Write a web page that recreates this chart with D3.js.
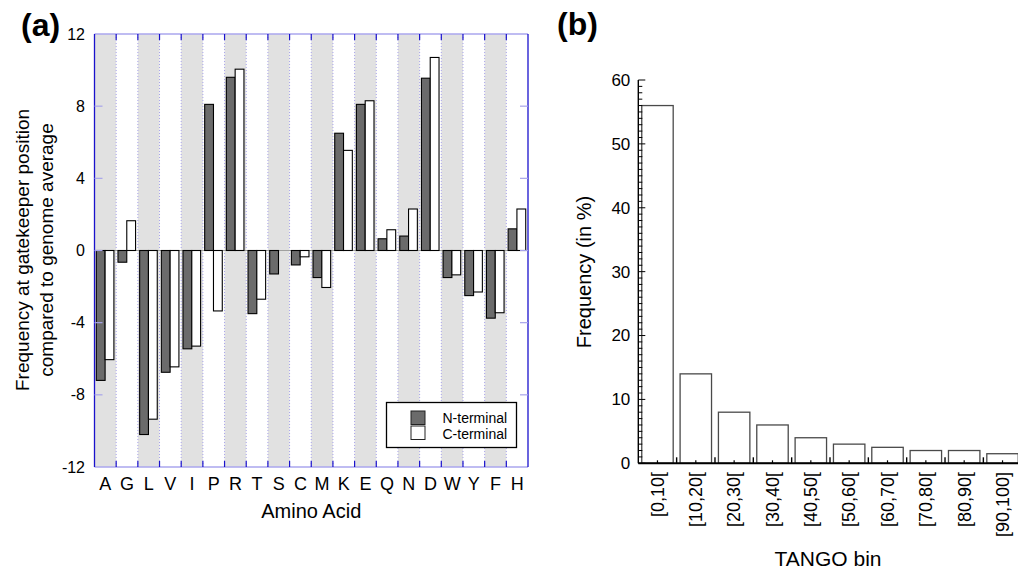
<!DOCTYPE html>
<html>
<head>
<meta charset="utf-8">
<script src="https://cdn.jsdelivr.net/npm/d3@7"></script>
<style>
    body { margin: 0; background: #fff; }
    text { font-family: "Liberation Sans", Arial, Helvetica, sans-serif; fill: #000; }
</style>
</head>
<body>
<svg id="chart"></svg>
<script>
const   width  = 1018,
        height = 570;

// panel (a) data
const aminoAcids = ["A","G","L","V","I","P","R","T","S","C","M","K","E","Q","N","D","W","Y","F","H"];
const nTerminal  = [-7.2, -0.65, -10.2, -6.75, -5.45, 8.1, 9.6, -3.5, -1.3, -0.8, -1.5, 6.5, 8.1, 0.65, 0.8, 9.55, -1.5, -2.5, -3.75, 1.2];
const cTerminal  = [-6.05, 1.65, -9.35, -6.45, -5.3, -3.35, 10.05, -2.7, 0, -0.35, -2.05, 5.55, 8.3, 1.15, 2.3, 10.7, -1.35, -2.3, -3.45, 2.3];
const yTicksA    = [-12, -8, -4, 0, 4, 8, 12];
const seriesA    = ["N-terminal", "C-terminal"];

// panel (b) data
const tangoBins  = ["[0,10[", "[10,20[", "[20,30[", "[30,40[", "[40,50[", "[50,60[", "[60,70[", "[70,80[", "[80,90[", "[90,100]"];
const tangoFreq  = [56, 14, 8, 6, 4, 3, 2.5, 2, 2, 1.5];
const yTicksB    = [0, 10, 20, 30, 40, 50, 60];

const svg = d3.select("#chart").attr("width", width).attr("height", height);

// ---------------- panel (a) ----------------
const A = {left: 94.5, right: 528, top: 34, bottom: 467};
const gA = svg.append("g");

const xA = d3.scaleBand().domain(aminoAcids).range([A.left, A.right]);
const xSub = d3.scaleBand().domain(seriesA).range([1.8, 19.4]);
const yA = d3.scaleLinear().domain([-12, 12]).range([A.bottom, A.top]);

// alternating grey bands
gA.selectAll("rect.band")
    .data(aminoAcids.filter((d, i) => i % 2 === 0))
    .enter().append("rect")
    .attr("class", "band")
    .attr("x", d => xA(d))
    .attr("y", A.top)
    .attr("width", xA.bandwidth())
    .attr("height", A.bottom - A.top)
    .style("fill", "#e1e1e1");

// dotted separators
const bounds = aminoAcids.slice(1).map(d => xA(d));
gA.selectAll("line.sep")
    .data(bounds)
    .enter().append("line")
    .attr("x1", d => d).attr("x2", d => d)
    .attr("y1", A.top).attr("y2", A.bottom)
    .style("stroke", "#a8a4ea")
    .style("stroke-width", 1)
    .style("stroke-dasharray", "1,2");

// zero line
gA.append("line")
    .attr("x1", A.left).attr("x2", A.right)
    .attr("y1", yA(0)).attr("y2", yA(0))
    .style("stroke", "#a0a0a0").style("stroke-width", 1.2);

// bars
const rowsA = aminoAcids.map((d, i) => ({aa: d, vals: [
    {key: "N-terminal", v: nTerminal[i]},
    {key: "C-terminal", v: cTerminal[i]}
]}));

gA.selectAll("g.aa")
    .data(rowsA)
    .enter().append("g")
    .attr("transform", d => "translate(" + xA(d.aa) + ",0)")
    .selectAll("rect")
    .data(d => d.vals)
    .enter().append("rect")
    .attr("x", d => xSub(d.key))
    .attr("y", d => yA(Math.max(0, d.v)))
    .attr("width", xSub.bandwidth())
    .attr("height", d => Math.abs(yA(d.v) - yA(0)))
    .style("fill", d => d.key === "N-terminal" ? "#6b6b6b" : "#ffffff")
    .style("stroke", "#000")
    .style("stroke-width", 1.1);

// frame: light top/bottom, blue left/right
gA.append("line").attr("x1", A.left).attr("x2", A.right).attr("y1", A.top).attr("y2", A.top)
    .style("stroke", "#aaa6ee").style("stroke-width", 1.5);
gA.append("line").attr("x1", A.left).attr("x2", A.right).attr("y1", A.bottom).attr("y2", A.bottom)
    .style("stroke", "#aaa6ee").style("stroke-width", 1.5);
gA.append("line").attr("x1", A.left).attr("x2", A.left).attr("y1", A.top).attr("y2", A.bottom)
    .style("stroke", "#1a12cc").style("stroke-width", 1.3);
gA.append("line").attr("x1", A.right).attr("x2", A.right).attr("y1", A.top).attr("y2", A.bottom)
    .style("stroke", "#1a12cc").style("stroke-width", 1.3);

// blue ticks on top and bottom at the boundaries
bounds.forEach(b => {
    gA.append("line").attr("x1", b).attr("x2", b).attr("y1", A.top).attr("y2", A.top + 6)
        .style("stroke", "#1a12cc").style("stroke-width", 1.2);
    gA.append("line").attr("x1", b).attr("x2", b).attr("y1", A.bottom - 6).attr("y2", A.bottom)
        .style("stroke", "#1a12cc").style("stroke-width", 1.2);
});

// y ticks (lavender, inside on both sides)
gA.selectAll("line.yt")
    .data(yTicksA.slice(1, -1))
    .enter().append("line")
    .attr("x1", A.left).attr("x2", A.left + 8)
    .attr("y1", d => yA(d)).attr("y2", d => yA(d))
    .style("stroke", "#a8a4ea").style("stroke-width", 1.2);
gA.selectAll("line.yt2")
    .data(yTicksA.slice(1, -1))
    .enter().append("line")
    .attr("x1", A.right - 8).attr("x2", A.right)
    .attr("y1", d => yA(d)).attr("y2", d => yA(d))
    .style("stroke", "#a8a4ea").style("stroke-width", 1.2);

gA.selectAll("text.ytl")
    .data(yTicksA)
    .enter().append("text")
    .attr("x", 85)
    .attr("y", d => yA(d))
    .attr("dy", "0.35em")
    .attr("text-anchor", "end")
    .style("font-size", "16px")
    .text(d => d);

gA.selectAll("text.xtl")
    .data(aminoAcids)
    .enter().append("text")
    .attr("x", d => xA(d) + xA.bandwidth() / 2)
    .attr("y", 490)
    .attr("text-anchor", "middle")
    .style("font-size", "18px")
    .text(d => d);

gA.append("text")
    .attr("x", (A.left + A.right) / 2)
    .attr("y", 518)
    .attr("text-anchor", "middle")
    .style("font-size", "20px")
    .text("Amino Acid");

const yLab = gA.append("text")
    .attr("transform", "translate(29,250) rotate(-90)")
    .attr("text-anchor", "middle")
    .style("font-size", "19px");
yLab.append("tspan").attr("x", 0).attr("y", 0).text("Frequency at gatekeeper position");
yLab.append("tspan").attr("x", 0).attr("y", 24).text("compared to genome average");

// legend
const leg = gA.append("g");
leg.append("rect")
    .attr("x", 386.5).attr("y", 402.5).attr("width", 130).attr("height", 45)
    .style("fill", "#fff").style("stroke", "#000").style("stroke-width", 1.3);
seriesA.forEach((s, i) => {
    leg.append("rect")
        .attr("x", 411).attr("y", 411 + i * 15).attr("width", 14).attr("height", 13.5)
        .style("fill", s === "N-terminal" ? "#6b6b6b" : "#fff")
        .style("stroke", "#222").style("stroke-width", 1);
    leg.append("text")
        .attr("x", 442.5).attr("y", 423 + i * 15.5)
        .style("font-size", "14px")
        .text(s);
});

svg.append("text")
    .attr("x", 21).attr("y", 36)
    .style("font-size", "32px").style("font-weight", "bold")
    .text("(a)");

// ---------------- panel (b) ----------------
const B = {left: 638.3, right: 1021.7, top: 80, bottom: 463.3};
const gB = svg.append("g");

const xB = d3.scaleBand().domain(tangoBins).range([B.left, B.right]).paddingInner(0.18).paddingOuter(0.09);
const xBin = d3.scaleBand().domain(tangoBins).range([B.left, B.right]);
const yB = d3.scaleLinear().domain([0, 60]).range([B.bottom, B.top]);

gB.selectAll("rect.bar")
    .data(tangoBins)
    .enter().append("rect")
    .attr("x", d => xB(d))
    .attr("y", (d, i) => yB(tangoFreq[i]))
    .attr("width", xB.bandwidth())
    .attr("height", (d, i) => yB(0) - yB(tangoFreq[i]))
    .style("fill", "#fff")
    .style("stroke", "#4a4a4a")
    .style("stroke-width", 1.3);

// y axis with minor ticks every 1
const yAxisB = d3.axisLeft(yB).tickValues(yTicksB).tickSize(0).tickPadding(8);
gB.append("g")
    .attr("transform", "translate(" + B.left + ",0)")
    .call(yAxisB)
    .call(g => g.select(".domain").remove())
    .call(g => g.selectAll("text").style("font-size", "17px").style("font-family", "Liberation Sans, Arial, sans-serif"));

gB.append("line")
    .attr("x1", B.left).attr("x2", B.left).attr("y1", B.top).attr("y2", B.bottom)
    .style("stroke", "#000").style("stroke-width", 1.4);
gB.selectAll("line.minor")
    .data(d3.range(0, 61))
    .enter().append("line")
    .attr("x1", B.left).attr("x2", d => d % 10 === 0 ? B.left + 7 : B.left + 4)
    .attr("y1", d => yB(d)).attr("y2", d => yB(d))
    .style("stroke", "#000").style("stroke-width", 1);

// x axis
gB.append("line")
    .attr("x1", B.left).attr("x2", width).attr("y1", B.bottom).attr("y2", B.bottom)
    .style("stroke", "#000").style("stroke-width", 2);
gB.selectAll("line.xb")
    .data(tangoBins.slice(1))
    .enter().append("line")
    .attr("x1", d => xBin(d)).attr("x2", d => xBin(d))
    .attr("y1", B.bottom).attr("y2", B.bottom - 6)
    .style("stroke", "#000").style("stroke-width", 1.4);
gB.selectAll("line.xc")
    .data(tangoBins)
    .enter().append("line")
    .attr("x1", d => xBin(d) + xBin.bandwidth() / 2).attr("x2", d => xBin(d) + xBin.bandwidth() / 2)
    .attr("y1", B.bottom).attr("y2", B.bottom - 3)
    .style("stroke", "#000").style("stroke-width", 1.2);

gB.selectAll("text.xl")
    .data(tangoBins)
    .enter().append("text")
    .attr("transform", d => "translate(" + (xBin(d) + xBin.bandwidth() / 2) + ",472) rotate(-90)")
    .attr("dy", "0.35em")
    .attr("text-anchor", "end")
    .style("font-size", "18px")
    .text(d => d);

gB.append("text")
    .attr("x", 828).attr("y", 566)
    .attr("text-anchor", "middle")
    .style("font-size", "21px")
    .text("TANGO bin");

gB.append("text")
    .attr("transform", "translate(591,272) rotate(-90)")
    .attr("text-anchor", "middle")
    .style("font-size", "20px")
    .text("Frequency (in %)");

svg.append("text")
    .attr("x", 557).attr("y", 35)
    .style("font-size", "32px").style("font-weight", "bold")
    .text("(b)");
</script>
</body>
</html>
